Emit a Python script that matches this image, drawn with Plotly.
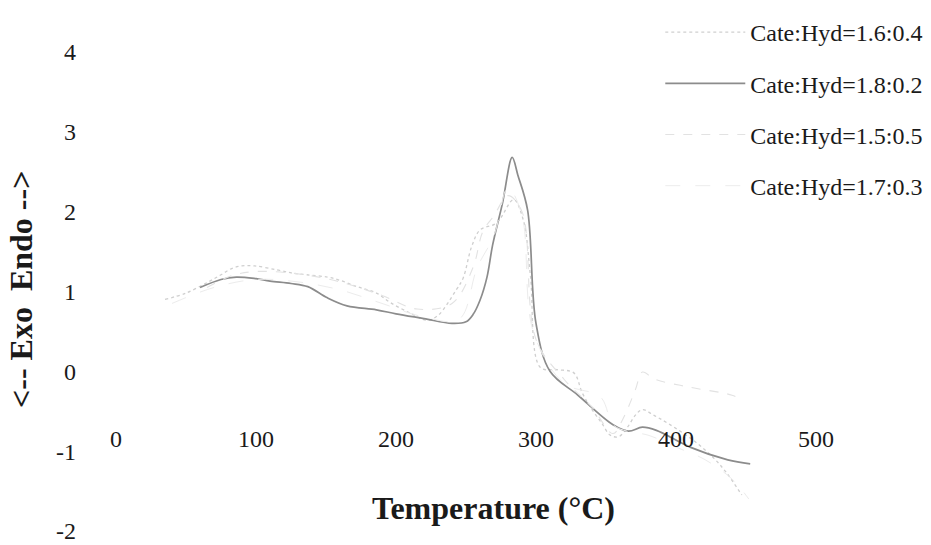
import plotly.graph_objects as go

# ---------------- data ----------------
names = ["Cate:Hyd=1.6:0.4", "Cate:Hyd=1.8:0.2", "Cate:Hyd=1.5:0.5", "Cate:Hyd=1.7:0.3"]

t1 = [35, 50, 66, 75, 83, 90, 99, 115, 126, 136, 151, 160, 169, 174, 186, 196, 210, 222, 230, 243, 248,
      254, 260, 272, 284, 291, 296, 303, 315, 327, 333, 340, 347, 353, 359, 365, 371, 376, 384, 394, 412,
      426, 436, 447]
h1 = [0.90, 0.98, 1.12, 1.21, 1.29, 1.32, 1.32, 1.27, 1.23, 1.21, 1.18, 1.14, 1.08, 1.05, 0.98, 0.86, 0.73,
      0.64, 0.70, 1.02, 1.17, 1.56, 1.77, 1.86, 2.15, 1.89, 1.20, 0.05, 0.02, -0.02, -0.27, -0.48, -0.65,
      -0.80, -0.82, -0.71, -0.55, -0.48, -0.55, -0.65, -0.86, -1.07, -1.27, -1.55]

t2 = [60, 75, 86, 100, 110, 125, 137, 151, 165, 186, 200, 220, 240, 250, 255, 260, 265, 269, 276, 283,
      287, 294, 300, 310, 330, 355, 366, 376, 386, 410, 437, 453]
h2 = [1.05, 1.15, 1.18, 1.16, 1.13, 1.10, 1.06, 0.92, 0.82, 0.77, 0.72, 0.66, 0.60, 0.62, 0.71, 0.89,
      1.18, 1.58, 2.10, 2.68, 2.46, 2.02, 0.60, 0.00, -0.30, -0.67, -0.75, -0.70, -0.74, -0.95, -1.11, -1.16]

t3 = [65, 83, 100, 130, 160, 190, 215, 240, 255, 262, 270, 280, 290, 300, 320, 340, 355, 362, 371, 376,
      385, 410, 440, 447]
h3 = [1.05, 1.20, 1.25, 1.22, 1.12, 0.95, 0.78, 0.85, 1.30, 1.75, 1.95, 2.20, 2.00, 0.40, -0.10, -0.45,
      -0.78, -0.60, -0.23, -0.01, -0.10, -0.20, -0.30, -0.36]

t4 = [40, 70, 100, 130, 160, 190, 220, 245, 258, 270, 280, 290, 298, 320, 346, 355, 365, 380, 400, 420,
      440, 452]
h4 = [0.85, 1.05, 1.15, 1.12, 1.02, 0.85, 0.68, 0.65, 1.30, 1.70, 2.30, 1.95, 0.50, -0.15, -0.32, -0.67,
      -0.75, -0.80, -0.95, -1.10, -1.35, -1.60]

x_ticks = [0, 100, 200, 300, 400, 500]
y_ticks = [-2, -1, 0, 1, 2, 3, 4]
y_tick_text = ["-2", "-1", "0", "1", "2", "3", "4"]

# ---------------- figure ----------------
serif = "Liberation Serif, Times New Roman, serif"
styles = [
    dict(color="#cfcfcf", width=1.3, dash="dot"),
    dict(color="#8c8c8c", width=1.7, dash="solid"),
    dict(color="#e2e2e2", width=1.1, dash="dash"),
    dict(color="#ececec", width=1.0, dash="longdash"),
]
series = [(t1, h1), (t2, h2), (t3, h3), (t4, h4)]

fig = go.Figure()
for i, ((tx, hy), nm, st) in enumerate(zip(series, names, styles)):
    fig.add_trace(go.Scatter(x=tx, y=hy, mode="lines", name=nm, line=dict(shape="spline", **st),
                             legendgroup=f"g{i}", showlegend=True))

fig.update_layout(
    width=931, height=545,
    margin=dict(l=85, r=0, t=10, b=10),
    paper_bgcolor="white", plot_bgcolor="white",
    font=dict(family=serif, size=24, color="#1a1a1a"),
    showlegend=True,
    legend=dict(x=0.68, y=1.0, xanchor="left", yanchor="top", bgcolor="rgba(0,0,0,0)",
                itemwidth=80, traceorder="grouped", tracegroupgap=17,
                font=dict(family=serif, size=24, color="#1a1a1a")),
    xaxis=dict(range=[-22.14, 582.14], tickvals=x_ticks, showgrid=False, zeroline=False,
               showline=False, ticks="", anchor="free", position=0.215,
               tickfont=dict(family=serif, size=24, color="#1a1a1a")),
    yaxis=dict(range=[-2.051, 4.526], tickvals=y_ticks, ticktext=y_tick_text, showgrid=False,
               zeroline=False, showline=False, ticks="", ticklabelstandoff=8,
               tickfont=dict(family=serif, size=24, color="#1a1a1a")),
    annotations=[
        dict(text="<b>Temperature (°C)</b>", xref="paper", yref="paper",
             x=(493 - 85) / 846, y=(535 - 508) / 525, xanchor="center", yanchor="middle",
             showarrow=False, font=dict(family=serif, size=32, color="#1a1a1a")),
        dict(text="<b>&lt;-- Exo  Endo --&gt;</b>", xref="paper", yref="paper",
             x=(21 - 85) / 846, y=(535 - 290) / 525, xanchor="center", yanchor="middle",
             textangle=-90, showarrow=False, font=dict(family=serif, size=32, color="#1a1a1a")),
    ],
)

fig.write_html("out.html")
